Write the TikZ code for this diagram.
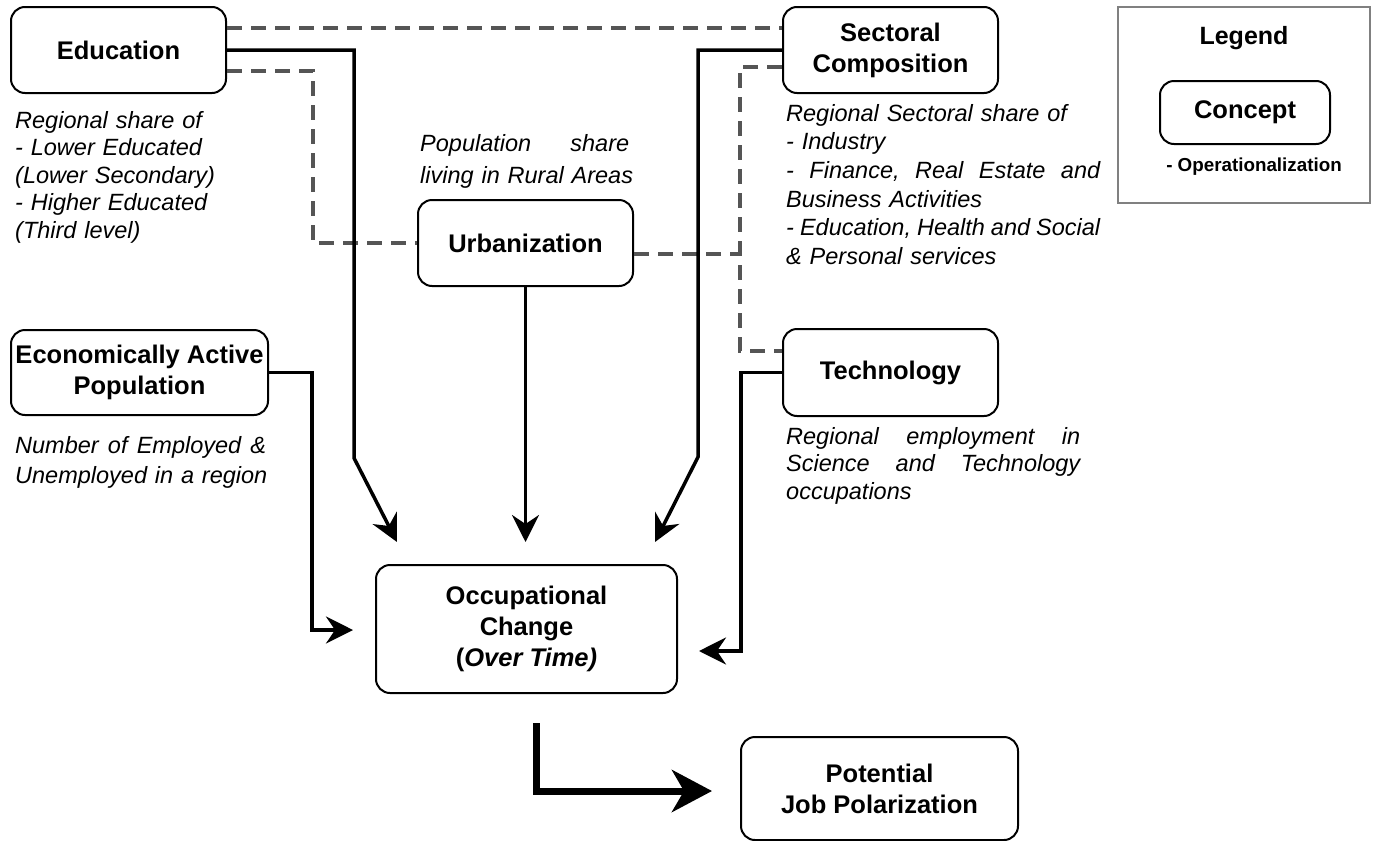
\documentclass[tikz,border=0pt]{standalone}
\usepackage{fontspec}
\setmainfont{Liberation Sans}
\usetikzlibrary{arrows.meta}
\definecolor{dashgray}{RGB}{85,85,85}
\definecolor{leggray}{RGB}{128,128,128}
\tikzset{
  concept/.style={draw, line width=2pt, rounded corners=14pt, align=center, inner sep=0pt,
    font=\bfseries\fontsize{25.5}{31}\selectfont},
  opnote/.style={inner sep=0pt, anchor=north west, align=left,
    font=\itshape\fontsize{23.5}{27.5}\selectfont},
  effect/.style={line width=3.5pt, -{Stealth[length=27pt,width=27pt,inset=9pt]}},
  link/.style={line width=3.5pt, dashgray, dash pattern=on 15pt off 9pt},
  bigeffect/.style={line width=7pt, -{Stealth[length=40pt,width=42pt,inset=12pt]}},
}
\newcommand{\spreadline}[2]{\leavevmode\hbox to #1{#2}}
\begin{document}
\begin{tikzpicture}[x=1pt,y=-1pt]
\useasboundingbox (0,0) rectangle (1374,841);

% concept boxes
\node[concept, minimum width=215pt, minimum height=86pt] (edu) at (118.5,50) {Education};
\node[concept, minimum width=215pt, minimum height=86pt] (sec) at (890.5,50) {Sectoral\\Composition};
\node[concept, minimum width=215pt, minimum height=86pt] (urb) at (525.5,243) {Urbanization};
\node[concept, minimum width=215pt, minimum height=87pt] (tech) at (890.5,372.5) {Technology};
\node[concept, minimum width=257pt, minimum height=85pt] (eap) at (139.5,372.5) {Economically Active\\Population};
\node[concept, minimum width=301pt, minimum height=128pt] (oc) at (526.5,629) {Occupational\\Change\\(\textit{Over Time)}};
\node[concept, minimum width=277pt, minimum height=103pt] (pjp) at (879.5,788.5) {Potential\\Job Polarization};

% operationalizations
\node[opnote, text width=240pt] (edutxt) at (15,111) {Regional share of\\- Lower Educated\\(Lower Secondary)\\- Higher Educated\\(Third level)};
\node[opnote, text width=320pt, font=\itshape\fontsize{23.5}{28.6}\selectfont] (sectxt) at (786,104)
  {Regional Sectoral share of\\- Industry\\\spreadline{314pt}{-\hfill Finance,\hfill Real\hfill Estate\hfill and}\\Business Activities\\\spreadline{314pt}{-\hfill Education,\hfill Health\hfill and\hfill Social}\\\& Personal services};
\node[opnote, text width=215pt, font=\itshape\fontsize{23.5}{32}\selectfont] (urbtxt) at (420,134)
  {\spreadline{209pt}{Population\hfill share}\\living in Rural Areas};
\node[opnote, text width=300pt] (techtxt) at (786,427)
  {\spreadline{294pt}{Regional\hfill employment\hfill in}\\\spreadline{294pt}{Science\hfill and\hfill Technology}\\occupations};
\node[opnote, text width=260pt, font=\itshape\fontsize{23.5}{30}\selectfont] (eaptxt) at (15,436)
  {\spreadline{251pt}{Number\hfill of\hfill Employed\hfill \&}\\Unemployed in a region};

% legend
\node[draw=leggray, line width=1.5pt, minimum width=252pt, minimum height=196pt, inner sep=0pt] (legbox) at (1244,105) {};
\node[font=\bfseries\fontsize{25}{30}\selectfont, inner sep=0pt] (legtitle) at (1244,38) {Legend};
\node[concept, minimum width=170pt, minimum height=63pt] (legconcept) at (1245,112.5) {Concept};
\node[font=\bfseries\fontsize{18.8}{22}\selectfont, inner sep=0pt] (legop) at (1254,167) {- Operationalization};

% arrow tips and free ends
\coordinate (t1) at (397,542);
\coordinate (t2) at (525.5,542);
\coordinate (t3) at (655,542);
\coordinate (t4) at (353,630);
\coordinate (t5) at (699,651);
\coordinate (urbend) at (740,254);
\coordinate (bigstart) at (536,723);
\coordinate (bigtip) at (712,791);

% dashed links
\draw[link] ([yshift=22pt]edu.east) -- ([yshift=22pt]sec.west);
\draw[link] ([yshift=-21pt]edu.east) -| (313,243) -- (urb.west);
\draw[link] ([yshift=-17pt]sec.west) -| (740,351) -- ([yshift=21.5pt]tech.west);
\draw[link] ([yshift=-11pt]urb.east) -- (urbend);

% effects
\draw[effect] (edu.east) -- (354,50) -- (354,458) -- (t1);
\draw[effect] (urb.south) -- (t2);
\draw[effect] (sec.west) -- (698,50) -- (698,457) -- (t3);
\draw[effect] (eap.east) -| (312,630) -- (t4);
\draw[effect] (tech.west) -| (741,651) -- (t5);
\draw[bigeffect] (bigstart) |- (bigtip);
\end{tikzpicture}
\end{document}
